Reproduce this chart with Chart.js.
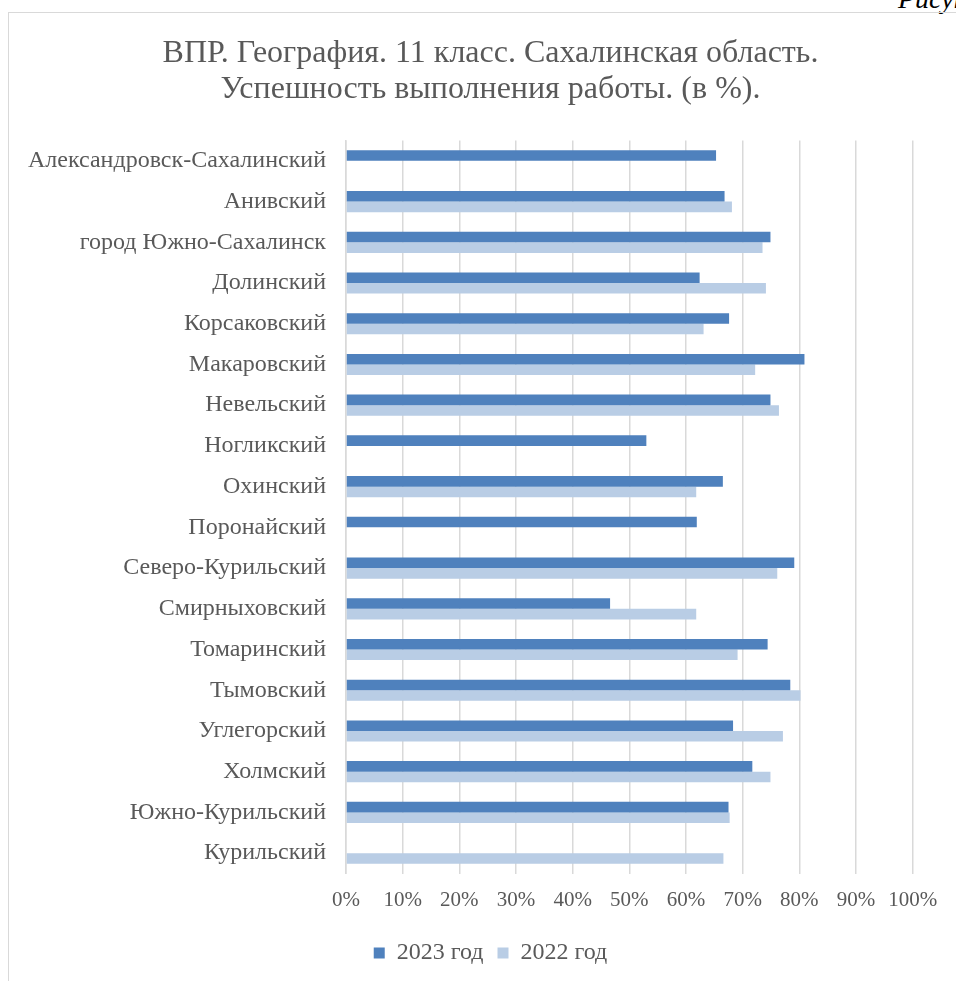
<!DOCTYPE html>
<html>
<head>
<meta charset="utf-8">
<script src="https://cdn.jsdelivr.net/npm/chart.js@4"></script>
<style>
  html, body { margin: 0; padding: 0; background: #fff; overflow: hidden; }
  body { width: 956px; height: 981px; position: relative; }
  #fig { position: absolute; left: 898px; top: -15px; font: italic 28px/28px "Liberation Serif", serif; color: #000; white-space: nowrap; }
  #box { position: absolute; left: 8px; top: 12px; width: 963px; height: 969px; border-left: 1px solid #d9d9d9; border-top: 1px solid #d9d9d9; }
  #wrap { position: absolute; left: 0; top: 0; width: 963px; height: 969px; }
</style>
</head>
<body>
<div id="fig">Рисунок</div>
<div id="box"><div id="wrap"><canvas id="statsChart"></canvas></div></div>
<script>
const districts = [
  "Александровск-Сахалинский", "Анивский", "город Южно-Сахалинск", "Долинский",
  "Корсаковский", "Макаровский", "Невельский", "Ногликский", "Охинский",
  "Поронайский", "Северо-Курильский", "Смирныховский", "Томаринский",
  "Тымовский", "Углегорский", "Холмский", "Южно-Курильский", "Курильский"
];
const year2023 = [65.3, 66.8, 74.9, 62.4, 67.6, 80.9, 74.9, 53.0, 66.5, 61.9, 79.1, 46.6, 74.4, 78.4, 68.3, 71.7, 67.5, null];
const year2022 = [null, 68.1, 73.5, 74.1, 63.1, 72.2, 76.4, null, 61.8, null, 76.1, 61.8, 69.1, 80.2, 77.1, 74.9, 67.7, 66.6];
const seriesNames = ["2023 год", "2022 год"];
const titleLines = ["ВПР. География. 11 класс. Сахалинская область.", "Успешность выполнения работы. (в %)."];

document.addEventListener("DOMContentLoaded", () => {
  const ctx = document.getElementById("statsChart").getContext("2d");
  const textColor = "#595959";
  const serif = "'Liberation Serif', 'Times New Roman', serif";

  new Chart(ctx, {
    type: "bar",
    data: {
      labels: districts,
      datasets: [
        { label: seriesNames[0], data: year2023, backgroundColor: "#4F81BD" },
        { label: seriesNames[1], data: year2022, backgroundColor: "#B9CDE5" }
      ]
    },
    options: {
      indexAxis: "y",
      responsive: true,
      maintainAspectRatio: false,
      animation: false,
      layout: { padding: { top: 0, right: 0, bottom: 7, left: 0 } },
      datasets: { bar: { categoryPercentage: 0.52, barPercentage: 1.0 } },
      scales: {
        x: {
          min: 0, max: 100,
          ticks: {
            stepSize: 10, padding: 14, color: textColor,
            maxRotation: 0, minRotation: 0, autoSkip: false,
            font: { family: serif, size: 21 },
            callback: v => v + "%"
          },
          grid: { color: "#d9d9d9", lineWidth: 1.5, drawTicks: false },
          border: { display: false },
          afterFit: s => { s.height = 53.5; }
        },
        y: {
          ticks: { padding: 20, color: textColor, font: { family: serif, size: 24 } },
          grid: { display: false, drawTicks: false },
          border: { display: true, color: "#d9d9d9", width: 1.5 },
          afterFit: s => { s.width = 337; }
        },
        // empty space on the right side of the plot
        yRight: {
          type: "linear", position: "right",
          ticks: { display: false },
          grid: { display: false, drawTicks: false },
          border: { display: false },
          afterFit: s => { s.width = 59.3; }
        }
      },
      plugins: {
        title: {
          display: true, text: titleLines, color: textColor,
          font: { family: serif, size: 32, weight: "normal", lineHeight: 1.1375 },
          padding: { top: 22.3, bottom: 32.4 }
        },
        legend: {
          position: "bottom",
          labels: { boxWidth: 11, boxHeight: 11, padding: 14, color: textColor, font: { family: serif, size: 24 } }
        },
        tooltip: { enabled: false }
      }
    }
  });
});
</script>
</body>
</html>
